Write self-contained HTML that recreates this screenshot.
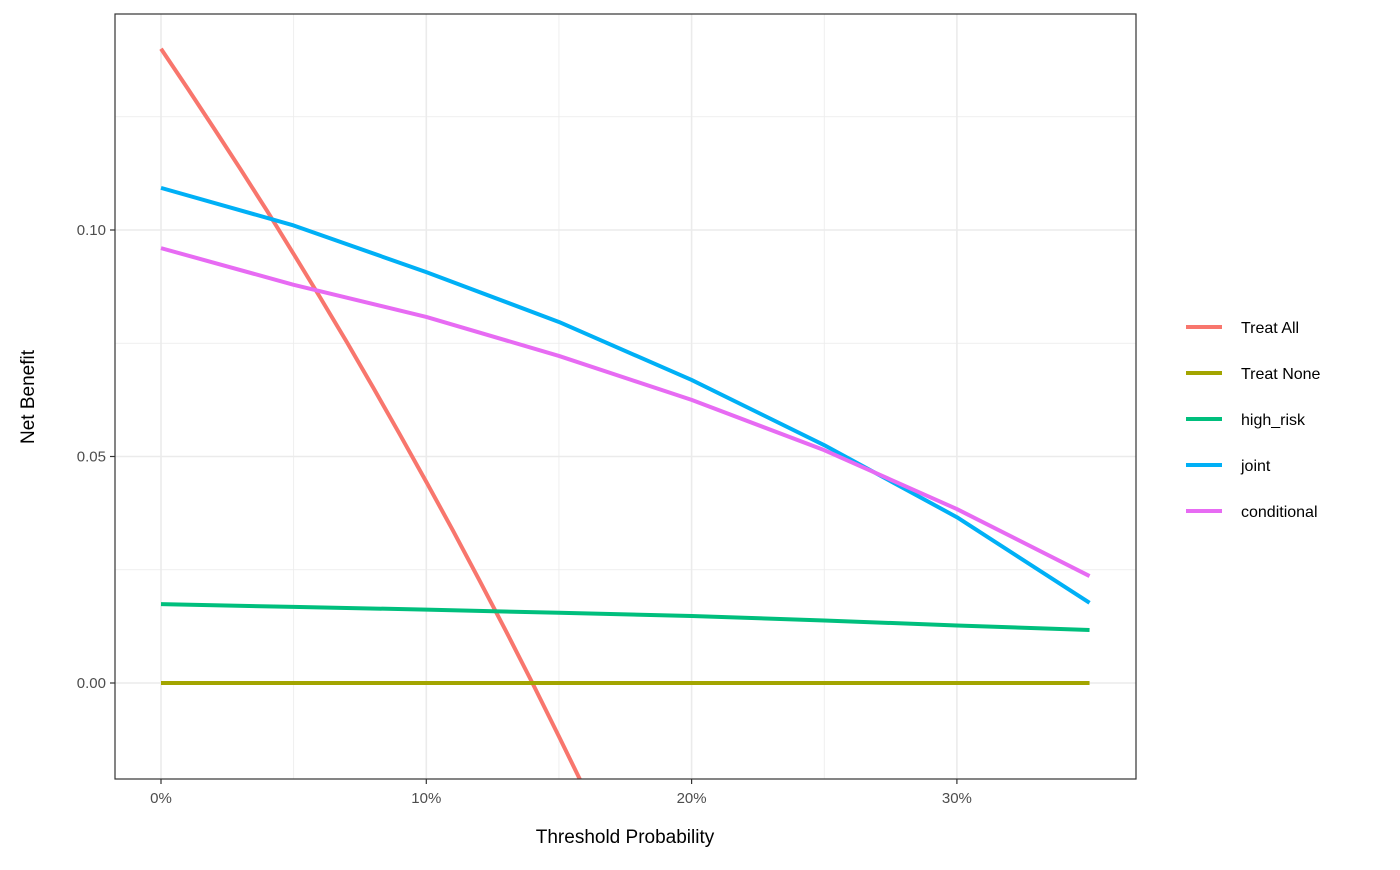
<!DOCTYPE html>
<html><head><meta charset="utf-8"><style>
body{margin:0;background:#fff;font-family:"Liberation Sans","DejaVu Sans",sans-serif;}
</style></head><body>
<svg id="chart" width="1400" height="865" xmlns="http://www.w3.org/2000/svg"></svg>
<script>
const thresholds=[0,0.05,0.10,0.15,0.20,0.25,0.30,0.35];
const treatAllT=[0,0.01,0.02,0.03,0.04,0.05,0.06,0.07,0.08,0.09,0.10,0.11,0.12,0.13,0.14,0.15,0.16];
const treatAllNB=[0.14,0.1313,0.1224,0.1134,0.1042,0.0947,0.0851,0.0753,0.0652,0.0549,0.0444,0.0337,0.0227,0.0115,0.0,-0.0118,-0.0238];
const treatNoneNB=[0,0,0,0,0,0,0,0];
const highRiskNB=[0.0174,0.0168,0.0162,0.0155,0.0148,0.0138,0.0127,0.0117];
const jointNB=[0.1093,0.1010,0.0907,0.0797,0.0669,0.0525,0.0366,0.0177];
const conditionalNB=[0.0960,0.0879,0.0808,0.0722,0.0625,0.0514,0.0384,0.0236];
const xTicks=[0,0.1,0.2,0.3];
const xTickLabels=["0%","10%","20%","30%"];
const yTicks=[0,0.05,0.10];
const yTickLabels=["0.00","0.05","0.10"];
const seriesNames=["Treat All","Treat None","high_risk","joint","conditional"];
const seriesColors=["#F8766D","#A3A500","#00BF7D","#00B0F6","#E76BF3"];

const svg=document.getElementById('chart');
const NS="http://www.w3.org/2000/svg";
const L=115,R=1136,T=14,B=779;
const x=t=>161+t*2653;
const y=v=>683-v*4530;
function mk(tag,attrs,name,parent){const e=document.createElementNS(NS,tag);for(const k in attrs)e.setAttribute(k,attrs[k]);


(parent||svg).appendChild(e);return e;}
mk('rect',{x:L,y:T,width:R-L,height:B-T,fill:'#fff'},'plot-background');
const clip=mk('clipPath',{id:'pc'},'plot-clip');
mk('rect',{x:L,y:T,width:R-L,height:B-T},'plot-clip-rect',clip);
// minor grid
[0.05,0.15,0.25].forEach(t=>mk('line',{x1:x(t),x2:x(t),y1:T,y2:B,stroke:'#ebebeb','stroke-width':0.8},'x-minor-grid'));
[0.025,0.075,0.125].forEach(v=>mk('line',{x1:L,x2:R,y1:y(v),y2:y(v),stroke:'#ebebeb','stroke-width':0.8},'y-minor-grid'));
xTicks.forEach((t,i)=>{mk('line',{x1:x(t),x2:x(t),y1:T,y2:B,stroke:'#ebebeb','stroke-width':1.6},'x-major-grid');
mk('line',{x1:x(t),x2:x(t),y1:B,y2:B+5,stroke:'#333','stroke-width':1.2},'x-tick');
const tx=mk('text',{x:x(t),y:B+24,'text-anchor':'middle','font-size':15,fill:'#4d4d4d'},'x-tick-label');tx.textContent=xTickLabels[i];});
yTicks.forEach((v,i)=>{mk('line',{x1:L,x2:R,y1:y(v),y2:y(v),stroke:'#ebebeb','stroke-width':1.6},'y-major-grid');
mk('line',{x1:L-5,x2:L,y1:y(v),y2:y(v),stroke:'#333','stroke-width':1.2},'y-tick');
const tx=mk('text',{x:L-9,y:y(v)+5,'text-anchor':'end','font-size':15,fill:'#4d4d4d'},'y-tick-label');tx.textContent=yTickLabels[i];});
const g=mk('g',{'clip-path':'url(#pc)'},'series-group');
function line(ts,vs,color,name){mk('polyline',{points:ts.map((t,i)=>x(t)+','+y(vs[i])).join(' '),fill:'none',stroke:color,'stroke-width':4,'stroke-linejoin':'round'},name,g);}
line(treatAllT,treatAllNB,seriesColors[0],'treat-all-line');
line(thresholds,treatNoneNB,seriesColors[1],'treat-none-line');
line(thresholds,highRiskNB,seriesColors[2],'high-risk-line');
line(thresholds,jointNB,seriesColors[3],'joint-line');
line(thresholds,conditionalNB,seriesColors[4],'conditional-line');
mk('rect',{x:L,y:T,width:R-L,height:B-T,fill:'none',stroke:'#333','stroke-width':1.2},'plot-border');
let t1=mk('text',{x:625,y:843,'text-anchor':'middle','font-size':19,fill:'#000'},'x-axis-title');t1.textContent="Threshold Probability";
let t2=mk('text',{x:34,y:397,'text-anchor':'middle','font-size':19,fill:'#000',transform:'rotate(-90 34 397)'},'y-axis-title');t2.textContent="Net Benefit";
seriesNames.forEach((n,i)=>{const yy=327+i*46;
mk('line',{x1:1186,x2:1222,y1:yy,y2:yy,stroke:seriesColors[i],'stroke-width':4},'legend-key');
const tx=mk('text',{x:1241,y:yy+6,'font-size':16,fill:'#000'},'legend-label');tx.textContent=n;});
</script>
</body></html>
